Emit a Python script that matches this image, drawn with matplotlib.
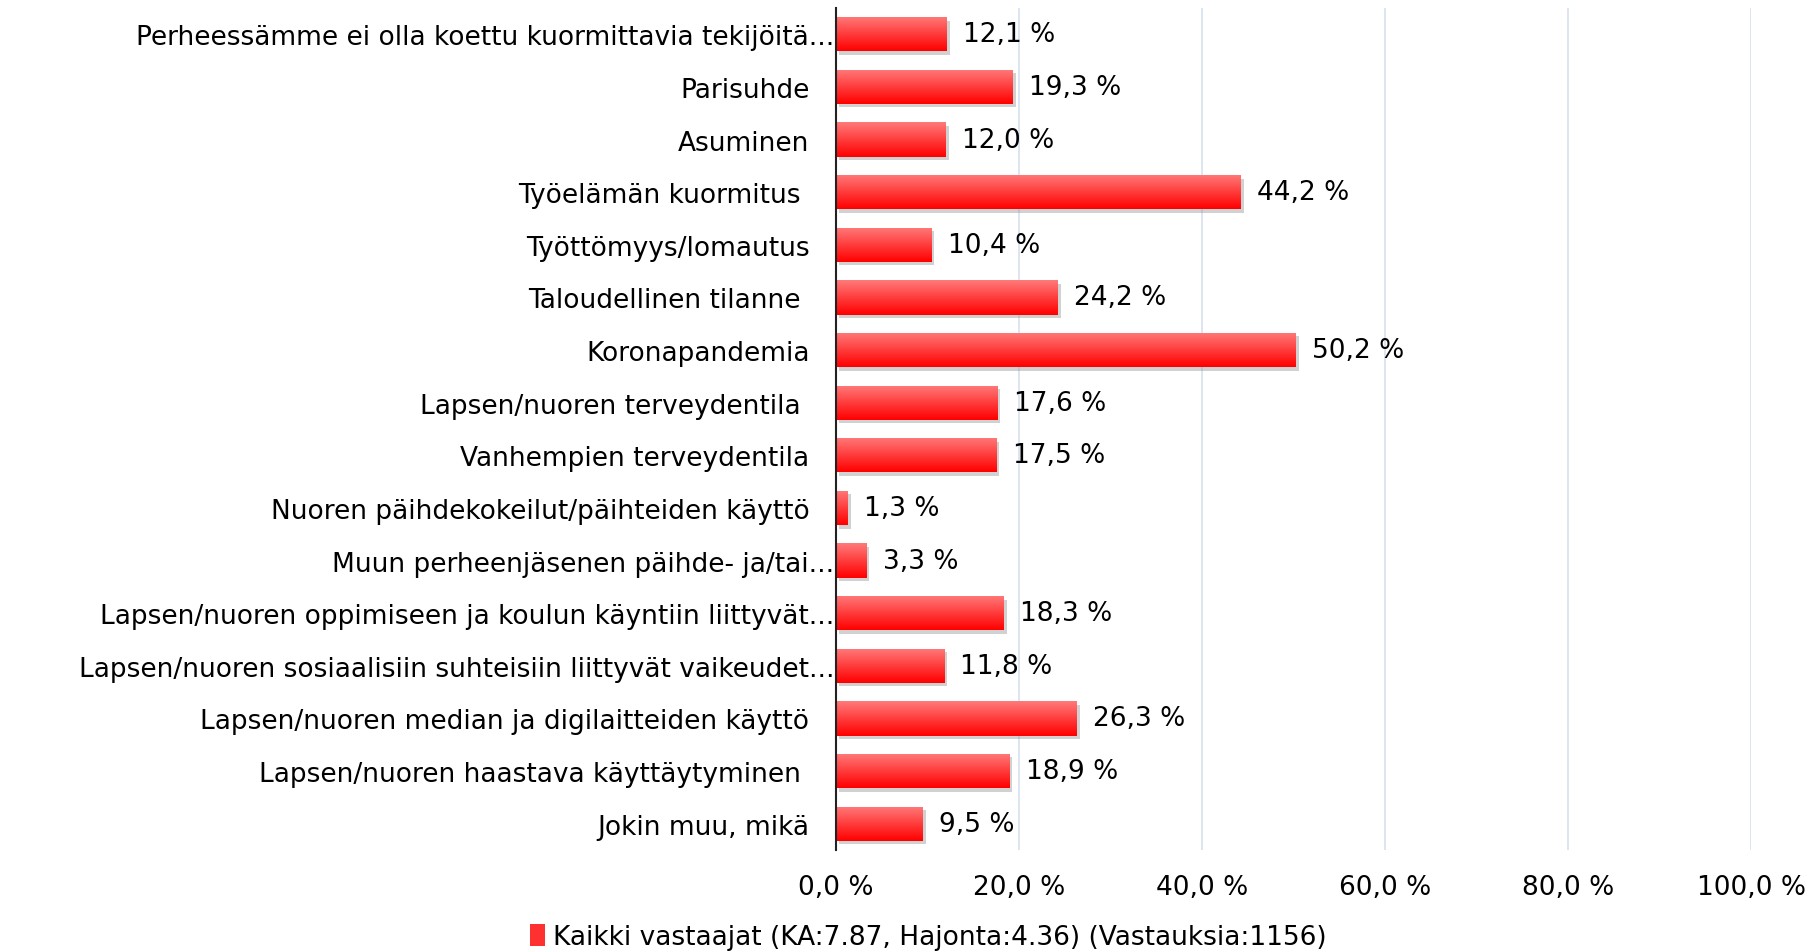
import numpy as np
import matplotlib
matplotlib.use("Agg")
import matplotlib.pyplot as plt
import matplotlib.patheffects as pe
from matplotlib.colors import LinearSegmentedColormap
from matplotlib.transforms import ScaledTranslation
from matplotlib.patches import Patch

# data
categories = [
    "Perheessämme ei olla koettu kuormittavia tekijöitä...",
    "Parisuhde",
    "Asuminen",
    "Työelämän kuormitus ",
    "Työttömyys/lomautus",
    "Taloudellinen tilanne ",
    "Koronapandemia",
    "Lapsen/nuoren terveydentila ",
    "Vanhempien terveydentila",
    "Nuoren päihdekokeilut/päihteiden käyttö",
    "Muun perheenjäsenen päihde- ja/tai...",
    "Lapsen/nuoren oppimiseen ja koulun käyntiin liittyvät...",
    "Lapsen/nuoren sosiaalisiin suhteisiin liittyvät vaikeudet...",
    "Lapsen/nuoren median ja digilaitteiden käyttö",
    "Lapsen/nuoren haastava käyttäytyminen ",
    "Jokin muu, mikä",
]
values = [12.1, 19.3, 12.0, 44.2, 10.4, 24.2, 50.2, 17.6, 17.5, 1.3, 3.3, 18.3, 11.8, 26.3, 18.9, 9.5]
xticks = [0, 20, 40, 60, 80, 100]
legend_label = "Kaikki vastaajat (KA:7.87, Hajonta:4.36) (Vastauksia:1156)"

plt.rcParams['font.family'] = ['DejaVu Sans']
FS = 19

fig = plt.figure(figsize=(18.13, 9.53), dpi=100)
ax = fig.add_axes([0.461, 0.107, 0.505, 0.8836])

y = np.arange(len(categories))
cmap = LinearSegmentedColormap.from_list("redgrad", ["#ff7a7a", "#ff0000"])
grad = np.linspace(0, 1, 64).reshape(-1, 1)

bars = ax.barh(y, values, height=0.65, color="#ff2020", zorder=2,
               path_effects=[pe.SimplePatchShadow(offset=(2.5, -2.5), shadow_rgbFace="#999999", alpha=0.45),
                             pe.Normal()])

# vertical gradient inside every bar
for b in bars:
    x0, y0 = b.get_x(), b.get_y()
    w, h = b.get_width(), b.get_height()
    im = ax.imshow(grad, extent=(x0, x0 + w, y0 + h, y0), aspect="auto", cmap=cmap,
                   zorder=3, interpolation="bilinear")
    im.set_clip_path(b)

for b, v in zip(bars, values):
    ax.annotate(f"{v:.1f} %".replace(".", ","), (b.get_width(), b.get_y() + b.get_height() / 2),
                xytext=(12, 0), textcoords="offset points", va="center", ha="left",
                fontsize=FS, zorder=4)

ax.set_xlim(0, 100)
ax.set_ylim(len(categories) - 0.5, -0.5)
ax.set_xticks(xticks)
ax.set_xticklabels([f"{t:.1f} %".replace(".", ",") for t in xticks], fontsize=FS)
ax.set_yticks(y)
ax.set_yticklabels(categories, fontsize=FS)
ax.tick_params(axis="both", length=0)
ax.tick_params(axis="y", pad=19)
ax.tick_params(axis="x", pad=17)

# truncated labels run right up to the axis
for lab in ax.get_yticklabels():
    if lab.get_text().endswith("..."):
        lab.set_transform(lab.get_transform() + ScaledTranslation(18 / 72, 0, fig.dpi_scale_trans))

ax.grid(axis="x", color="#d6e0ee", linewidth=1.2, zorder=0)
ax.set_axisbelow(True)
for s in ["top", "right", "bottom"]:
    ax.spines[s].set_visible(False)
ax.spines["left"].set_color("#222222")
ax.spines["left"].set_linewidth(1.5)
ax.spines["left"].set_zorder(5)

handle = Patch(facecolor="#ff3030", edgecolor="none")
fig.legend([handle], [legend_label], loc="center", bbox_to_anchor=(0.512, 0.016),
           frameon=False, fontsize=FS, handlelength=0.55, handleheight=0.9, handletextpad=0.3)

fig.savefig("out.png", dpi=100)
